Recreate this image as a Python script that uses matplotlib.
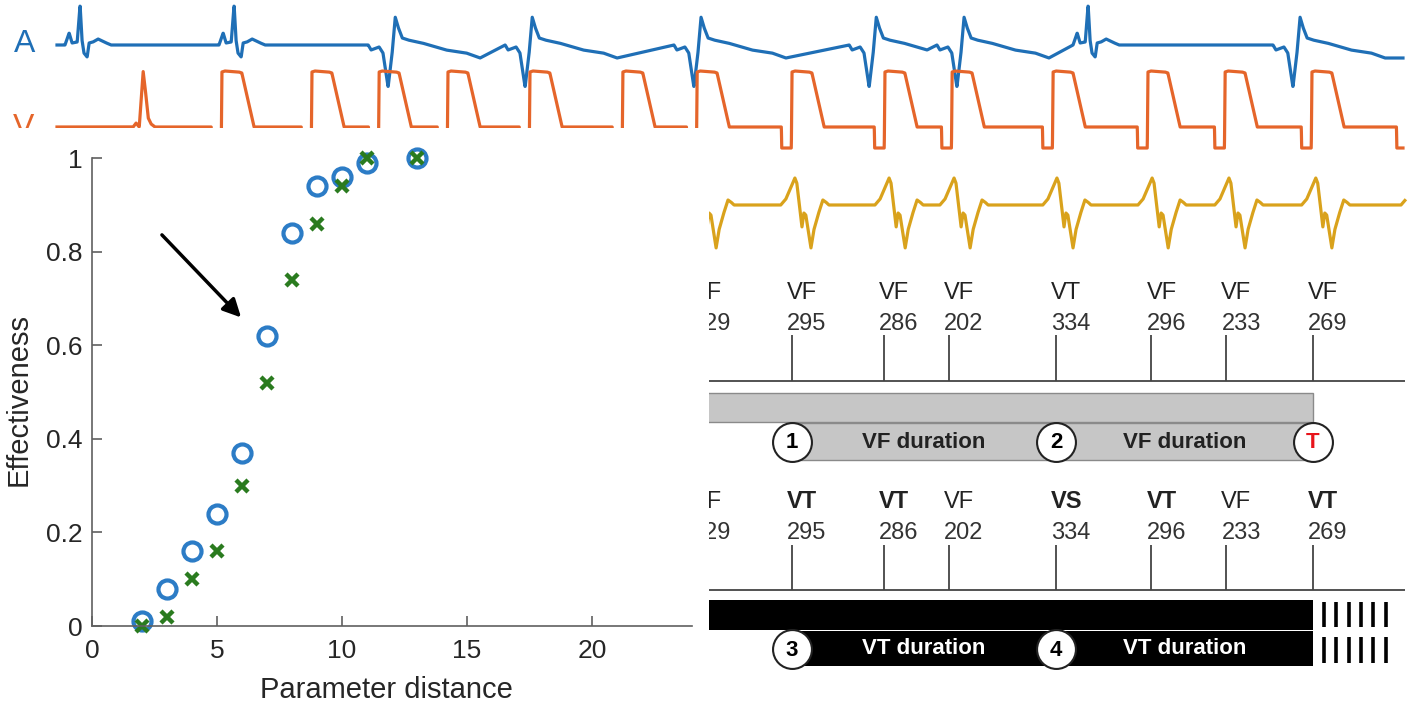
import numpy as np
import matplotlib
matplotlib.use("Agg")
import matplotlib.pyplot as plt
from matplotlib.patches import Rectangle

plt.rcParams['font.family'] = ['Liberation Sans', 'DejaVu Sans']

W, H = 1412, 706
MS_PER_PX = 3.11          # time scale of the strips (ms per pixel)
T0_PX = 55                # pixel column of t = 0 ms

BLUE, ORANGE, GOLD = "#1f6fb6", "#e5652a", "#d9a21c"

# ---------------- scatter data ----------------
param_dist = [2, 3, 4, 5, 6, 7, 8, 9, 10, 11, 13]
eff_circle = [0.01, 0.08, 0.16, 0.24, 0.37, 0.62, 0.84, 0.94, 0.96, 0.99, 1.00]
eff_cross = [0.00, 0.02, 0.10, 0.16, 0.30, 0.52, 0.74, 0.86, 0.94, 1.00, 1.00]

# ---------------- strip events (ms) ----------------
A_ATRIAL_MS = [78, 557, 3213]
A_FARFIELD_MS = [1036, 1462, 1987, 2532, 2805, 3850]
V_SPIKE_MS = [274]
V_PULSE_MS = [519, 799, 1008, 1222, 1477, 1766, 1997, 2292, 2581, 2790,
              3104, 3399, 3639, 3909, 4205]
EGM_PEAK_MS = [2006, 2301, 2594, 2796, 3116, 3412, 3651, 3921, 4230]

# waveform shapes: (offset ms, amplitude a.u.)
ATRIAL_SHAPE = [(-47, 0), (-34, 12), (-25, 2), (-9, 3), (0, 40), (6, 5), (12, -8),
                (22, -12), (28, 2), (40, 3), (56, 6), (75, 3), (96, 0)]
FARFIELD_SHAPE = [(-62, 0), (-53, -5), (-28, -2), (-16, -8), (0, -42), (12, -10),
                  (22, 28), (31, 18), (44, 7), (62, 5), (106, 2), (180, -5),
                  (243, -8), (286, -13)]
VSPIKE_SHAPE = [(-31, 0), (-22, 4), (-12, 0), (0, 56), (6, 40), (16, 9), (25, 3), (37, 0)]
VPULSE_SHAPE = [(-33, 0), (-32, -21), (-2, -21), (0, 55), (9, 56), (53, 55),
                (62, 54), (100, 0)]
EGM_SHAPE = [(-44, 0), (-28, 6), (-12, 18), (0, 27), (6, 22), (16, -5), (22, -22),
             (28, -8), (34, -10), (50, -43), (59, -25), (72, -10), (87, 5),
             (96, 3), (106, 0)]

# ---------------- rhythm diagram ----------------
RR_MS = [229, 295, 286, 202, 334, 296, 233, 269]
TYPE_TOP = ["VF", "VF", "VF", "VF", "VT", "VF", "VF", "VF"]
TYPE_BOT = ["VF", "VT", "VT", "VF", "VS", "VT", "VF", "VT"]
FIRST_EVENT_MS = 1997


def px2ms(px):
    return (px - T0_PX) * MS_PER_PX


def build(events, t0, t1):
    events = sorted(events, key=lambda e: e[0])
    kt, ka = [t0], [0.0]
    for i, (te, shape) in enumerate(events):
        nxt = events[i + 1][0] + events[i + 1][1][0][0] if i + 1 < len(events) else np.inf
        for dt, a in shape:
            if kt[-1] < te + dt < nxt:
                kt.append(te + dt); ka.append(a)
    t = np.arange(t0, t1, 0.5)
    return t, np.interp(t, kt, ka)


fig = plt.figure(figsize=(W / 100, H / 100), dpi=100)
ax = fig.add_axes([0, 0, 1, 1])
ax.set_xlim(px2ms(0), px2ms(W)); ax.set_ylim(H, 0); ax.set_axis_off()

# strips
tA, aA = build([(t, ATRIAL_SHAPE) for t in A_ATRIAL_MS] +
               [(t, FARFIELD_SHAPE) for t in A_FARFIELD_MS], px2ms(57), px2ms(1403))
ax.plot(tA, 45 - aA, color=BLUE, lw=2.3)
tV, aV = build([(t, VSPIKE_SHAPE) for t in V_SPIKE_MS] +
               [(t, VPULSE_SHAPE) for t in V_PULSE_MS], px2ms(57), px2ms(1403))
ax.plot(tV, 127 - aV, color=ORANGE, lw=2.3)
tE, aE = build([(t, EGM_SHAPE) for t in EGM_PEAK_MS], px2ms(660), px2ms(1405))
ax.plot(tE, 205 - aE, color=GOLD, lw=2.3)

ax.text(px2ms(25), 44, "A", color=BLUE, fontsize=23, ha="center", va="center")
ax.text(px2ms(24), 128, "V", color=ORANGE, fontsize=23, ha="center", va="center")

# diagram
ev = FIRST_EVENT_MS + np.concatenate([[0], np.cumsum(RR_MS[1:])])
left = ev[0] - 200
for (ytype, ynum, ytick, yb, types, bold) in [(293, 324, 335, 381, TYPE_TOP, False),
                                              (502, 533, 545, 590, TYPE_BOT, True)]:
    ax.hlines(yb, left, px2ms(1405), color="#444444", lw=1.3)
    ax.vlines(ev, ytick, yb, color="#444444", lw=1.3)
    for e, rr, typ in zip(ev, RR_MS, types):
        fw = "bold" if (bold and typ != "VF") else "normal"
        ax.text(e - 5 * MS_PER_PX, ytype, typ, ha="left", va="center", fontsize=17,
                color="#222222", fontweight=fw)
        ax.text(e - 5 * MS_PER_PX, ynum, str(rr), ha="left", va="center", fontsize=17,
                color="#333333")

# VF bars
ax.add_patch(Rectangle((left, 393), ev[-1] - left, 29, fc="#c6c6c6", ec="#8a8a8a", lw=1))
ax.add_patch(Rectangle((ev[1], 423), ev[-1] - ev[1], 37, fc="#c6c6c6", ec="#8a8a8a", lw=1))
# VT bars
ax.add_patch(Rectangle((left, 600), ev[-1] - left, 29.5, fc="black", ec="none"))
ax.add_patch(Rectangle((ev[1], 631), ev[-1] - ev[1], 35, fc="black", ec="none"))
xs = ev[-1] + (11 + 12.4 * np.arange(6)) * MS_PER_PX
ax.vlines(xs, 602, 627, color="black", lw=2.6)
ax.vlines(xs, 637, 663, color="black", lw=2.6)

for idx, lab, yc, col in [(1, "1", 442, "black"), (4, "2", 442, "black"), (7, "T", 442, "#e8141b"),
                          (1, "3", 649, "black"), (4, "4", 649, "black")]:
    ax.plot(ev[idx], yc, "o", ms=28, mfc="white", mec="#222222", mew=1.5, zorder=4)
    ax.text(ev[idx], yc + 1, lab, ha="center", va="center", fontsize=16,
            fontweight="bold", color=col, zorder=5)
for a, b in [(1, 4), (4, 7)]:
    ax.text((ev[a] + ev[b]) / 2, 442, "VF duration", ha="center", va="center",
            fontsize=16, fontweight="bold", color="#222222")
    ax.text((ev[a] + ev[b]) / 2, 649, "VT duration", ha="center", va="center",
            fontsize=16, fontweight="bold", color="white")

# white inset backdrop
fig.add_artist(Rectangle((0, 0), 709 / W, (H - 128) / H, transform=fig.transFigure,
                         fc="white", ec="none", zorder=2))

# ---------------- scatter inset ----------------
axS = fig.add_axes([92 / W, 80 / H, 600 / W, 468 / H], zorder=3)
axS.patch.set_alpha(0)
axS.plot(param_dist, eff_circle, "o", ms=13, mfc="none", mec="#2c7cc6", mew=3.0, clip_on=False)
axS.plot(param_dist, eff_cross, "x", ms=8, mec="#2a7b1f", mew=3.2, clip_on=False)
axS.annotate("", xy=(6.04, 0.655), xytext=(2.72, 0.84),
             arrowprops=dict(arrowstyle="-|>", color="black", lw=2.5, mutation_scale=27))
axS.set_xlim(0, 24); axS.set_ylim(0, 1)
axS.set_xticks([0, 5, 10, 15, 20])
axS.set_yticks([0, 0.2, 0.4, 0.6, 0.8, 1])
axS.set_yticklabels(["0", "0.2", "0.4", "0.6", "0.8", "1"])
for s in ("top", "right"):
    axS.spines[s].set_visible(False)
for s in ("left", "bottom"):
    axS.spines[s].set_color("#606060"); axS.spines[s].set_linewidth(1.2)
axS.tick_params(direction="in", length=7, width=1.2, color="#606060",
                labelsize=19, labelcolor="#262626")
axS.tick_params(axis="x", pad=9)
axS.tick_params(axis="y", pad=7)
axS.set_xlabel("Parameter distance", fontsize=21, color="#262626", va="center")
axS.set_ylabel("Effectiveness", fontsize=21, color="#262626", va="center", ha="center")
axS.xaxis.set_label_coords(0.49, -0.137)
axS.yaxis.set_label_coords(-0.123, 0.483)

fig.savefig("out.png", dpi=100)
